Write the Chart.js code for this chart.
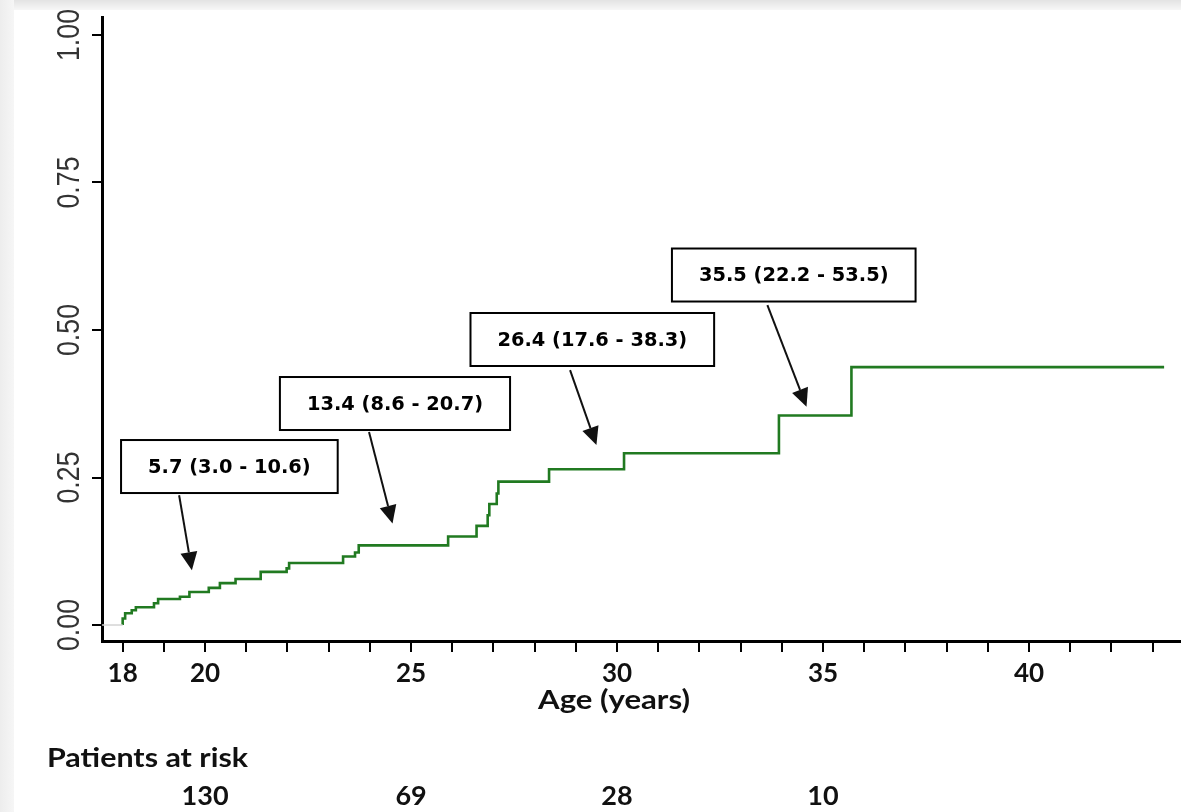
<!DOCTYPE html>
<html>
<head>
<meta charset="utf-8">
<script src="https://cdn.jsdelivr.net/npm/chart.js@4.4.0/dist/chart.umd.min.js"></script>
<style>
    html, body { margin: 0; padding: 0; background: #fff; }
    #wrap { position: relative; width: 1181px; height: 812px; overflow: hidden; background: #fff; }
    .edge-top { position: absolute; left: 0; top: 0; width: 1181px; height: 10px; background: linear-gradient(#e3e3e3, #f7f7f7); }
    .edge-left { position: absolute; left: 0; top: 0; width: 14px; height: 812px; background: linear-gradient(90deg, #ededed, #f6f6f6); }
    canvas { position: absolute; left: 0; top: 0; }
</style>
</head>
<body>
<div id="wrap">
    <div class="edge-top"></div>
    <div class="edge-left"></div>
    <canvas id="chart" width="1181" height="812"></canvas>
</div>
<script>
// --- Data ---
const eventAges = [18.00, 18.00, 18.06, 18.22, 18.32, 18.76, 18.86, 19.39, 19.62, 20.09, 20.36, 20.74,
    21.35, 21.98, 22.04, 23.35, 23.64, 23.73, 25.90, 26.59, 26.86, 26.90, 27.08, 27.12, 28.35, 30.17,
    33.93, 35.69, 43.28];
const cumIncidence = [0.000, 0.011, 0.020, 0.025, 0.030, 0.037, 0.044, 0.048, 0.056, 0.063, 0.071, 0.078,
    0.090, 0.096, 0.105, 0.116, 0.123, 0.135, 0.150, 0.168, 0.186, 0.205, 0.223, 0.243, 0.264, 0.291,
    0.355, 0.437, 0.437];

const xTickValues = [18, 19, 20, 21, 22, 23, 24, 25, 26, 27, 28, 29, 30, 31, 32, 33, 34, 35, 36, 37, 38, 39, 40, 41, 42, 43];
const xTickLabels = [18, 20, 25, 30, 35, 40];
const yTickValues = [0, 0.25, 0.5, 0.75, 1.0];
const yTickLabels = ['0.00', '0.25', '0.50', '0.75', '1.00'];

const riskAges = [20, 25, 30, 35];
const riskCounts = [130, 69, 28, 10];

// annotation boxes: text, box centre, arrow tail and tip (age, cumulative incidence)
const noteTexts = ['5.7 (3.0 - 10.6)', '13.4 (8.6 - 20.7)', '26.4 (17.6 - 38.3)', '35.5 (22.2 - 53.5)'];
const noteBoxAge = [20.59, 24.61, 29.40, 34.29];
const noteBoxValue = [0.2686, 0.3754, 0.4839, 0.5932];
const noteTailAge = [19.37, 23.98, 28.86, 33.65];
const noteTailValue = [0.220, 0.327, 0.432, 0.542];
const noteTipAge = [19.68, 24.55, 29.50, 34.60];
const noteTipValue = [0.093, 0.172, 0.305, 0.370];

// draw text squeezed/stretched horizontally to a given width
const fitText = (ctx, text, x, y, width) => {
    const k = width / ctx.measureText(text).width;
    ctx.save();
    ctx.translate(x, y);
    ctx.scale(k, 1);
    ctx.fillText(text, 0, 0);
    ctx.restore();
};

// --- Extra drawing: boxes with arrows, rotated y labels, axis title, numbers at risk ---
const extrasPlugin = {
    id: 'kmExtras',
    afterDatasetsDraw(chart) {
        const { ctx, scales: { x, y } } = chart;
        ctx.save();
        ctx.font = 'bold 20px "DejaVu Sans"';
        noteTexts.forEach((text, i) => {
            const cx = x.getPixelForValue(noteBoxAge[i]);
            const cy = y.getPixelForValue(noteBoxValue[i]);
            const tw = ctx.measureText(text).width * 0.97;
            const w = tw + 54;
            const h = 53;
            ctx.fillStyle = '#fff';
            ctx.fillRect(cx - w / 2, cy - h / 2, w, h);
            ctx.strokeStyle = '#000';
            ctx.lineWidth = 2;
            ctx.strokeRect(cx - w / 2, cy - h / 2, w, h);
            ctx.fillStyle = '#000';
            ctx.textAlign = 'center';
            ctx.textBaseline = 'middle';
            fitText(ctx, text, cx, cy + 1, tw);

            // arrow
            const x1 = x.getPixelForValue(noteTailAge[i]), y1 = y.getPixelForValue(noteTailValue[i]);
            const x2 = x.getPixelForValue(noteTipAge[i]), y2 = y.getPixelForValue(noteTipValue[i]);
            const ang = Math.atan2(y2 - y1, x2 - x1);
            const headLen = 18, headHalf = 8.5;
            const bx = x2 - Math.cos(ang) * headLen, by = y2 - Math.sin(ang) * headLen;
            ctx.strokeStyle = '#111';
            ctx.lineWidth = 2;
            ctx.beginPath();
            ctx.moveTo(x1, y1);
            ctx.lineTo(bx, by);
            ctx.stroke();
            ctx.fillStyle = '#111';
            ctx.beginPath();
            ctx.moveTo(x2, y2);
            ctx.lineTo(bx + Math.sin(ang) * headHalf, by - Math.cos(ang) * headHalf);
            ctx.lineTo(bx - Math.sin(ang) * headHalf, by + Math.cos(ang) * headHalf);
            ctx.closePath();
            ctx.fill();
        });
        ctx.restore();
    },
    afterDraw(chart) {
        const { ctx, scales: { x, y } } = chart;
        ctx.save();

        // y tick labels, read bottom to top
        ctx.font = '32px "Liberation Sans Narrow", "Liberation Sans", Arial';
        const stretch = 52 / ctx.measureText('1.00').width;
        ctx.fillStyle = '#333';
        ctx.textAlign = 'center';
        ctx.textBaseline = 'middle';
        yTickValues.forEach((v, i) => {
            ctx.save();
            ctx.translate(69, y.getPixelForValue(v));
            ctx.rotate(-Math.PI / 2);
            ctx.scale(stretch, 1);
            ctx.fillText(yTickLabels[i], 0, 1);
            ctx.restore();
        });

        // x axis title
        ctx.fillStyle = '#111';
        ctx.textBaseline = 'alphabetic';
        ctx.font = 'bold 27px Lato';
        fitText(ctx, 'Age (years)', 614, 709, 152);

        // patients at risk
        ctx.textAlign = 'left';
        ctx.font = 'bold 27px Lato';
        fitText(ctx, 'Patients at risk', 47, 767, 201);
        ctx.textAlign = 'center';
        ctx.font = 'bold 27px Lato';
        riskCounts.forEach((n, i) => {
            ctx.fillText(String(n), x.getPixelForValue(riskAges[i]), 805);
        });
        ctx.restore();
    }
};

const curve = eventAges.map((a, i) => ({ x: a, y: cumIncidence[i] }));

new Chart(document.getElementById('chart'), {
    type: 'line',
    data: {
        datasets: [
            {
                label: 'baseline',
                data: [{ x: 17.5, y: 0 }, { x: eventAges[0], y: 0 }],
                borderColor: '#d4d4d4',
                borderWidth: 1.5,
                pointRadius: 0
            },
            {
                label: 'Cumulative incidence',
                data: curve,
                stepped: 'before',
                borderColor: '#217a21',
                borderWidth: 2.6,
                pointRadius: 0,
                fill: false
            }
        ]
    },
    options: {
        responsive: false,
        animation: false,
        layout: { padding: { top: 17, left: 0, right: 0, bottom: 0 } },
        plugins: { legend: { display: false }, tooltip: { enabled: false } },
        scales: {
            x: {
                type: 'linear',
                min: 17.498,
                max: 43.69,
                afterBuildTicks: s => { s.ticks = xTickValues.map(v => ({ value: v })); },
                afterFit: s => { s.height = 171; },
                ticks: {
                    autoSkip: false,
                    maxRotation: 0,
                    padding: 6,
                    color: '#111',
                    font: { family: 'Lato', weight: 'bold', size: 26 },
                    callback: v => xTickLabels.includes(v) ? String(v) : ''
                },
                grid: { drawOnChartArea: false, drawTicks: true, tickLength: 11, color: '#000', lineWidth: 2 },
                border: { display: true, color: '#000', width: 3 }
            },
            y: {
                type: 'linear',
                min: -0.0271,
                max: 1.0305,
                afterBuildTicks: s => { s.ticks = yTickValues.map(v => ({ value: v })); },
                afterFit: s => { s.width = 102; },
                ticks: { display: false },
                grid: { drawOnChartArea: false, drawTicks: true, tickLength: 10, color: '#000', lineWidth: 2 },
                border: { display: true, color: '#000', width: 3 }
            }
        }
    },
    plugins: [extrasPlugin]
});
</script>
</body>
</html>
